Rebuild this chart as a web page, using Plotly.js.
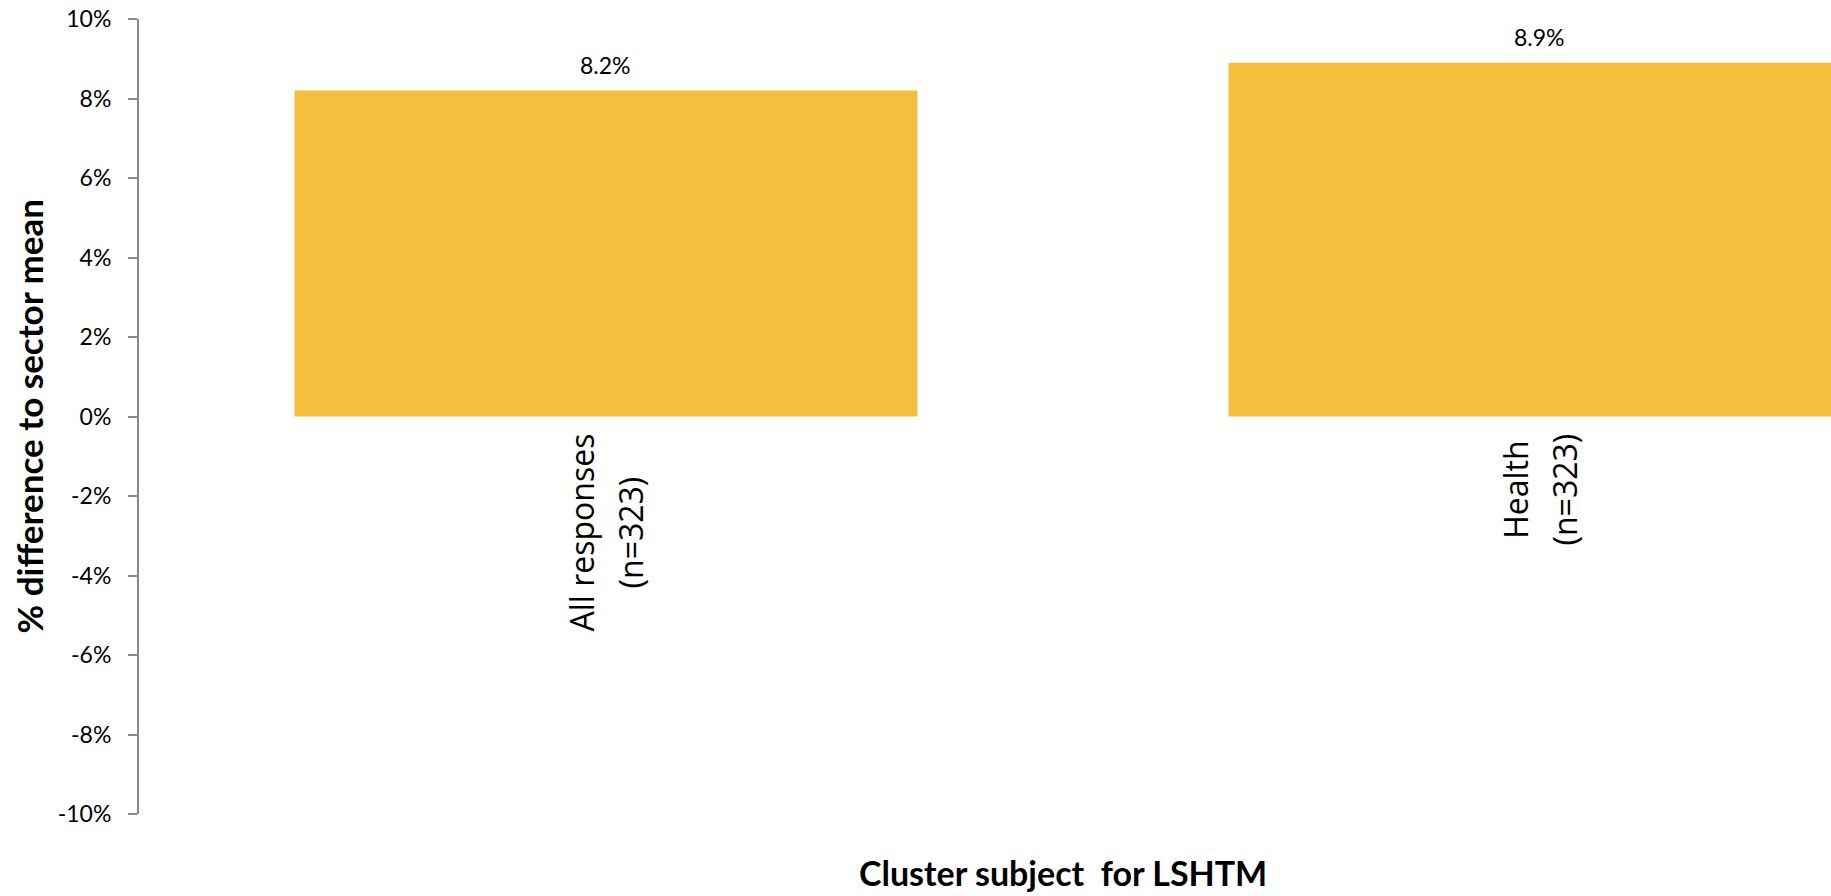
<!DOCTYPE html>
<html>
<head>
<meta charset="utf-8">
<script src="https://cdn.plot.ly/plotly-3.0.1.min.js"></script>
<style>html,body{margin:0;padding:0;background:#fff;overflow:hidden;}#chart{width:1831px;height:896px;}</style>
</head>
<body>
<div id="chart"></div>
<script>
// ---- data ----
const categories = ["All responses<br>(n=323)", "Health<br>(n=323)"];
const values = [0.082, 0.089];
const valueLabels = ["8.2%", "8.9%"];
const yTickVals = [-0.10, -0.08, -0.06, -0.04, -0.02, 0, 0.02, 0.04, 0.06, 0.08, 0.10];
const yTickText = ["-10%", "-8%", "-6%", "-4%", "-2%", "0%", "2%", "4%", "6%", "8%", "10%"];
const yTitle = "% difference to sector mean";
const xTitle = "Cluster subject  for LSHTM";

// ---- styles ----
const barColor = "#F3BF3D";
const axisGray = "#898989";
const numFont = "Lato, 'Open Sans', sans-serif";

const xIdx = categories.map((c, i) => i);

const trace = {
  type: "bar",
  x: xIdx,
  y: values,
  marker: { color: barColor, line: { width: 0 } },
  hoverinfo: "none"
};

const annotations = [];
// value labels above bars
xIdx.forEach((xi, i) => {
  annotations.push({
    x: xi, y: values[i], xref: "x", yref: "y",
    text: valueLabels[i], showarrow: false,
    xanchor: "center", yanchor: "middle", yshift: 26,
    font: { family: numFont, size: 23, color: "#000" }
  });
});
// category labels (rotated); outer size sets line spacing, inner span sets glyph size
xIdx.forEach((xi, i) => {
  const lines = categories[i].split("<br>").map(s => '<span style="font-size:32px">' + s + '</span>');
  annotations.push({
    x: xi, y: 0, xref: "x", yref: "y",
    text: lines.join("<br>"), showarrow: false, textangle: -90, align: "center",
    xanchor: "center", yanchor: "top", yshift: -15,
    font: { family: "'Open Sans', sans-serif", size: 37, color: "#000" }
  });
});
// y-axis title
annotations.push({
  x: -0.0656, y: 0.5, xref: "paper", yref: "paper",
  text: "<b>" + yTitle + "</b>", showarrow: false, textangle: -90,
  xanchor: "center", yanchor: "middle",
  font: { family: numFont, size: 35, color: "#000" }
});
// x-axis title
annotations.push({
  x: 0.546, y: -0.073, xref: "paper", yref: "paper",
  text: "<b>" + xTitle + "</b>", showarrow: false,
  xanchor: "center", yanchor: "middle",
  font: { family: numFont, size: 34, color: "#000" }
});

const layout = {
  width: 1831, height: 896,
  margin: { l: 139, r: 0, t: 19, b: 82, pad: 0 },
  paper_bgcolor: "#fff", plot_bgcolor: "#fff",
  showlegend: false,
  bargap: 0.333,
  xaxis: {
    range: [-0.5, 1.3116],
    showgrid: false, zeroline: false, showline: false,
    showticklabels: false, ticks: "", fixedrange: true
  },
  yaxis: {
    range: [-0.10, 0.10],
    tickvals: yTickVals, ticktext: yTickText,
    showgrid: false, zeroline: false,
    showline: true, linecolor: axisGray, linewidth: 2,
    ticks: "outside", ticklen: 9, tickwidth: 2, tickcolor: axisGray,
    ticklabelstandoff: 12,
    tickfont: { family: numFont, size: 23, color: "#000" },
    fixedrange: true
  },
  annotations: annotations
};

Plotly.newPlot("chart", [trace], layout, { displayModeBar: false, staticPlot: true });
</script>
</body>
</html>
